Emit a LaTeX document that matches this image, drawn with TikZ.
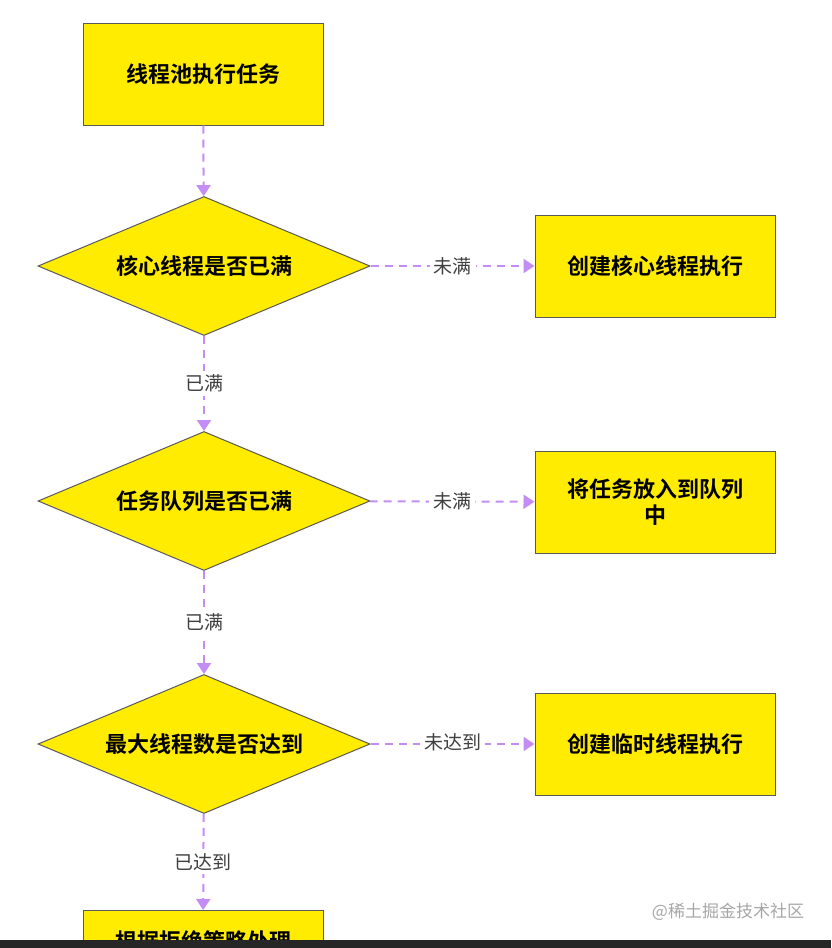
\documentclass[tikz,border=0pt]{standalone}
\usepackage{fontspec}
\newfontfamily\cjk{Noto Sans CJK SC}[BoldFont={Noto Sans CJK SC Bold}]
\usetikzlibrary{shapes.geometric,arrows.meta}
\definecolor{boxyellow}{RGB}{255,236,0}
\definecolor{linepurple}{RGB}{196,140,245}
\tikzset{
  procbox/.style={draw=gray!70!black,fill=boxyellow,line width=1pt,minimum width=240pt,minimum height=102pt,
    align=center,text width=225pt,font=\cjk\bfseries\fontsize{22pt}{26pt}\selectfont},
  decision/.style={diamond,draw=gray!70!black,fill=boxyellow,line width=1pt,minimum width=332pt,minimum height=139pt,
    aspect=2.4,inner sep=0pt,font=\cjk\bfseries\fontsize{22pt}{26pt}\selectfont},
  flow/.style={draw=linepurple,line width=2pt,dash pattern=on 8pt off 6pt,-{Triangle[length=11pt,width=14pt]}},
  lbl/.style={fill=white,inner sep=4pt,font=\cjk\fontsize{19pt}{22pt}\selectfont,text=black!75}
}
\begin{document}
\begin{tikzpicture}[x=1pt,y=-1pt]
  \useasboundingbox (0,0) rectangle (831,948);
  \begin{scope}
    \clip (0,0) rectangle (831,940);
    \node[procbox] (start) at (203,74) {线程池执行任务};
    \node[decision] (core) at (204,266) {核心线程是否已满};
    \node[procbox] (newcore) at (655,266) {创建核心线程执行};
    \node[decision] (queue) at (204,501) {任务队列是否已满};
    \node[procbox] (enqueue) at (655,502) {将任务放入到队列\\中};
    \node[decision] (max) at (204,744) {最大线程数是否达到};
    \node[procbox] (newtemp) at (655,744) {创建临时线程执行};
    \node[procbox,anchor=north,minimum height=0pt,inner ysep=20pt] (reject) at (203,910) {根据拒绝策略处理};
    \draw[flow] (start) -- (core);
    \draw[flow] (core) -- node[lbl] {已满} (queue);
    \draw[flow] (queue) -- node[lbl] {已满} (max);
    \draw[flow] (max) -- node[lbl] {已达到} (reject);
    \draw[flow] (core) -- node[lbl] {未满} (newcore);
    \draw[flow] (queue) -- node[lbl] {未满} (enqueue);
    \draw[flow] (max) -- node[lbl,above=-12pt] {未达到} (newtemp);
  \end{scope}
  \node[font=\cjk\fontsize{17pt}{20pt}\selectfont,text=gray!70] (mark) at (728,912) {@稀土掘金技术社区};
  \fill[black!85] (0,940) rectangle (831,948);
\end{tikzpicture}
\end{document}
